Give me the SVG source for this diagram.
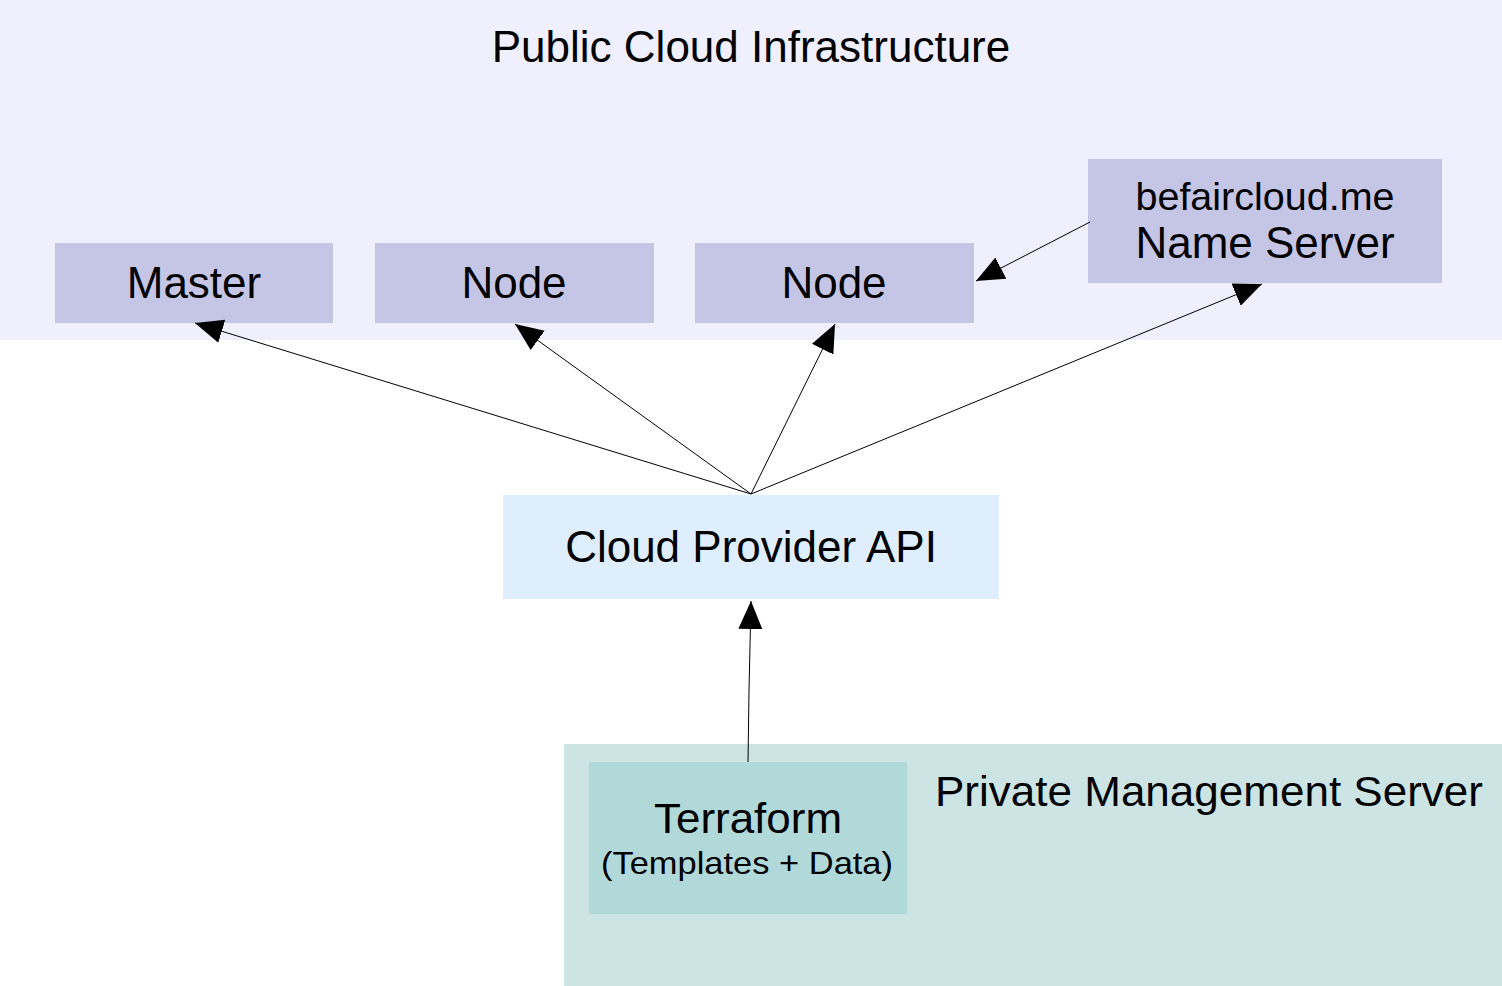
<svg xmlns="http://www.w3.org/2000/svg" width="1502" height="986" viewBox="0 0 1502 986">
<style>
text{font-family:"Liberation Sans",Arial,sans-serif;fill:#000;text-anchor:middle}
.vm{fill:#c5c5e5}
.c{fill:none;stroke:#000;stroke-width:1}
</style>
<defs>
<marker id="ah" markerUnits="userSpaceOnUse" markerWidth="30" markerHeight="26" refX="28" refY="12" orient="auto">
<path d="M0,0 L28,12 L0,24 Z" fill="#000"/>
</marker>
</defs>
<rect width="1502" height="986" fill="#fff"/>
<g id="public-cloud">
<rect x="0" y="0" width="1502" height="340" fill="#efeffd"/>
<text x="751" y="62" font-size="44">Public Cloud Infrastructure</text>
</g>
<g id="private-server">
<rect x="564" y="744" width="938" height="242" fill="#cce4e4"/>
<text x="1209" y="806" font-size="42" textLength="548" lengthAdjust="spacingAndGlyphs">Private Management Server</text>
</g>
<g id="master">
<rect class="vm" x="55" y="243" width="278" height="80"/>
<text x="194" y="298" font-size="44">Master</text>
</g>
<g id="node1">
<rect class="vm" x="375" y="243" width="279" height="80"/>
<text x="514" y="298" font-size="44">Node</text>
</g>
<g id="node2">
<rect class="vm" x="695" y="243" width="279" height="80"/>
<text x="834" y="298" font-size="44">Node</text>
</g>
<g id="nameserver">
<rect class="vm" x="1088" y="159" width="354" height="124"/>
<text x="1265" y="210" font-size="39.5">befaircloud.me</text>
<text x="1265" y="258" font-size="44">Name Server</text>
</g>
<g id="api">
<rect x="503" y="495" width="496" height="104" fill="#deeefd"/>
<text x="751" y="562" font-size="44">Cloud Provider API</text>
</g>
<g id="terraform">
<rect x="589" y="762" width="318" height="152" fill="#b2d9d9"/>
<text x="748" y="833" font-size="42" textLength="188" lengthAdjust="spacingAndGlyphs">Terraform</text>
<text x="747" y="874" font-size="32" textLength="292" lengthAdjust="spacingAndGlyphs">(Templates + Data)</text>
</g>
<g id="connectors">
<path class="c" marker-end="url(#ah)" d="M751,494 L195,323"/>
<path class="c" marker-end="url(#ah)" d="M751,494 L515,324"/>
<path class="c" marker-end="url(#ah)" d="M751,494 L835,324"/>
<path class="c" marker-end="url(#ah)" d="M751,494 L1262,284"/>
<path class="c" marker-end="url(#ah)" d="M1090,222 L976,281"/>
<path class="c" marker-end="url(#ah)" d="M748,762 L749,690 L751,601"/>
</g>
</svg>
